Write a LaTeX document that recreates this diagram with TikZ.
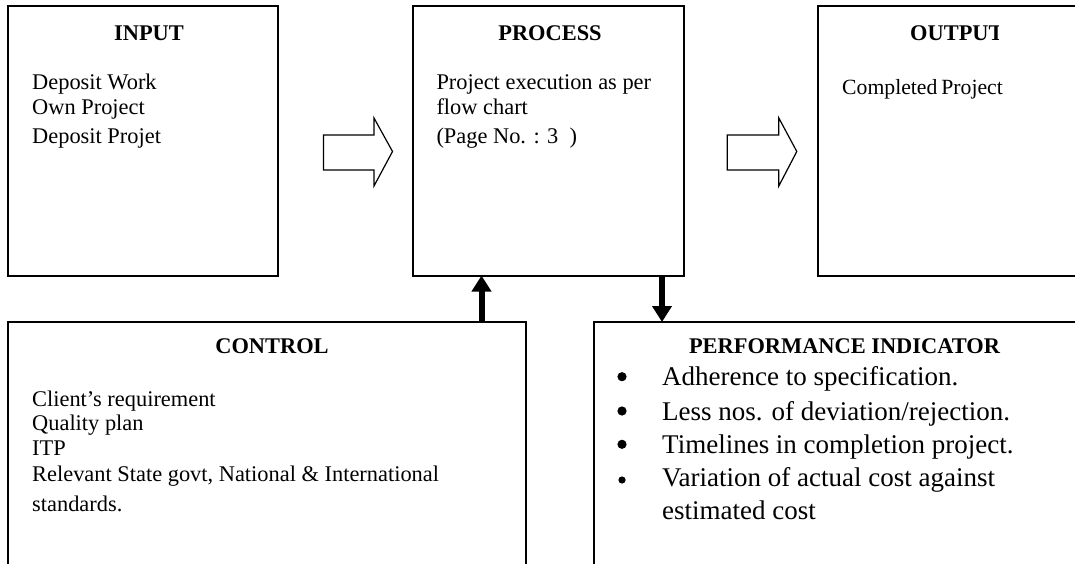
\documentclass[tikz,border=0pt]{standalone}
\usepackage{fontspec}
\setmainfont{Liberation Serif}
\usetikzlibrary{arrows.meta}
\tikzset{
  box/.style={draw, line width=2pt, inner sep=0pt, outer sep=0pt, rectangle},
  body/.style={anchor=base west, inner sep=0pt, font=\fontsize{22.4}{26}\selectfont},
  ttl/.style={anchor=base, inner sep=0pt, font=\fontsize{22.4}{26}\selectfont\bfseries},
  bul/.style={anchor=base west, inner sep=0pt, font=\fontsize{27}{32}\selectfont},
  fat/.style={line width=6pt, -{Triangle[length=16pt,width=19pt]}},
  blockarrow/.style={draw, line width=1.2pt, line join=miter}
}
\begin{document}
\begin{tikzpicture}[x=1pt,y=-1pt]
\useasboundingbox (0,0) rectangle (1075,564);
\clip (0,0) rectangle (1075,564);
% boxes
\node[box, minimum width=270.7pt, minimum height=269.5pt] (input) at (143,140.8) {};
\node[box, minimum width=271pt, minimum height=269.5pt] (process) at (548.8,140.8) {};
\node[box, minimum width=277pt, minimum height=269.5pt] (output) at (956.5,140.8) {};
\node[box, minimum width=518.4pt, minimum height=258pt] (control) at (266.8,451) {};
\node[box, minimum width=501.5pt, minimum height=258pt] (perf) at (844.25,451) {};
% block arrows
\draw[blockarrow] (323.5,135) -- (374,135) -- (374,118) -- (392.5,151.5) -- (374,186) -- (374,170) -- (323.5,170) -- cycle;
\draw[blockarrow] (727.3,135) -- (778.8,135) -- (778.8,118) -- (796.8,151.5) -- (778.8,186) -- (778.8,170) -- (727.3,170) -- cycle;
% vertical connectors
\coordinate (ux) at (481.5,300);
\coordinate (dx) at (662,300);
\draw[fat] (ux |- control.north) -- (ux |- process.south);
\draw[fat] (dx |- process.south) -- (dx |- perf.north);
% INPUT
\node[ttl] (intitle) at (149,40.7) {INPUT};
\node[body] (in1) at (32,90) {Deposit Work};
\node[body] (in2) at (32,114.3) {Own Project};
\node[body] (in3) at (32,144) {Deposit Projet};
% PROCESS
\node[ttl] (prtitle) at (550,40.7) {PROCESS};
\node[body] (pr1) at (436.3,90) {Project execution as per};
\node[body] (pr2) at (436.3,114.3) {flow chart};
\node[body] (pr3) at (436.3,144) {(Page No. : 3~~)};
% OUTPUT (last letter cut)
\begin{scope}
\clip (900,0) rectangle (998,60);
\node[ttl, anchor=base west] (outtitle) at (910,40.7) {OUTPUT};
\end{scope}
\node[body, font=\fontsize{21.7}{26}\selectfont] (out1) at (842,94.3) {Completed\hspace{-1.5pt} Project};
% CONTROL
\node[ttl] (cotitle) at (272,353.3) {CONTROL};
\node[body] (co1) at (32,406) {Client’s requirement};
\node[body] (co2) at (32,430) {Quality plan};
\node[body] (co3) at (32,455) {ITP};
\node[body] (co4) at (32,481.7) {Relevant State govt, National \& International};
\node[body] (co5) at (32,511.7) {standards.};
% PERFORMANCE INDICATOR
\node[ttl] (petitle) at (844.5,353.3) {PERFORMANCE INDICATOR};
\fill (622,376.7) circle (4.6pt);
\fill (622,411) circle (4.6pt);
\fill (622,444.3) circle (4.6pt);
\fill (622,480) circle (3.6pt);
\node[bul] (pe1) at (662,385.7) {Adherence to specification.};
\node[bul] (pe2) at (662,420) {Less nos. of deviation/rejection.};
\node[bul] (pe3) at (662,453.3) {Timelines in completion project.};
\node[bul] (pe4) at (662,486.7) {Variation of actual cost against};
\node[bul] (pe5) at (662,519.3) {estimated cost};
\end{tikzpicture}
\end{document}
